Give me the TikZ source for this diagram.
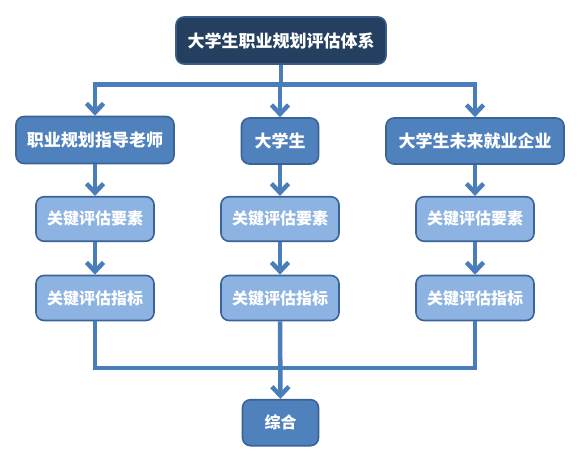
\documentclass[tikz,border=0pt]{standalone}
\usepackage{fontspec}
\setmainfont{Noto Sans CJK SC}
\usetikzlibrary{arrows.meta}
\definecolor{navy}{HTML}{243F60}
\definecolor{navyline}{HTML}{3A5D8A}
\definecolor{midblue}{HTML}{4F81BD}
\definecolor{midline}{HTML}{3A6398}
\definecolor{lightblue}{HTML}{8DB3E2}
\definecolor{wireblue}{HTML}{4A7EBB}
\begin{document}
\begin{tikzpicture}[x=1pt,y=-1pt,
  box/.style={draw=midline,line width=1.6pt,rounded corners=8pt,fill=midblue,
    text=white,font=\bfseries\fontsize{17pt}{17pt}\selectfont,inner sep=0pt,
    minimum height=46pt},
  topbox/.style={box,fill=navy,draw=navyline,minimum width=210pt,minimum height=47pt},
  subbox/.style={box,fill=lightblue,font=\bfseries\fontsize{16pt}{16pt}\selectfont,
    minimum width=118pt,minimum height=44.5pt},
  wire/.style={draw=wireblue,line width=4.5pt},
  arr/.style={wire,-{Straight Barb[length=9pt,width=17pt,line width=4.5pt]}}]
\useasboundingbox (0,0) rectangle (578,454);
% boxes
\node[topbox] (sys) at (281,40.5) {大学生职业规划评估体系};
\node[box,minimum width=158pt,minimum height=47pt] (teacher) at (95,140) {职业规划指导老师};
\node[box,minimum width=77pt] (student) at (280,141) {大学生};
\node[box,minimum width=178pt] (firm) at (475,141) {大学生未来就业企业};
\node[subbox] (elemA) at (95,219) {关键评估要素};
\node[subbox] (elemB) at (280,219) {关键评估要素};
\node[subbox] (elemC) at (475,219) {关键评估要素};
\node[subbox,minimum height=45pt] (indA) at (95,298) {关键评估指标};
\node[subbox,minimum height=45pt] (indB) at (280,298) {关键评估指标};
\node[subbox,minimum height=45pt] (indC) at (475,298) {关键评估指标};
\node[box,minimum width=76pt,font=\bfseries\fontsize{16pt}{16pt}\selectfont] (sum) at (280.5,422.7) {综合};
% wires
\coordinate (split) at (281,84.5);
\coordinate (join) at (280,368);
\draw[wire] (sys) -- (split);
\draw[arr] (split) -| (teacher);
\draw[arr] (split) -| (firm);
\draw[arr] (split) -| (student);
\draw[arr] (teacher) -- (elemA);
\draw[arr] (student) -- (elemB);
\draw[arr] (firm) -- (elemC);
\draw[arr] (elemA) -- (indA);
\draw[arr] (elemB) -- (indB);
\draw[arr] (elemC) -- (indC);
\draw[wire] (indA) |- (join);
\draw[wire] (indC) |- (join);
\draw[arr] (indB) -- (sum);
\end{tikzpicture}
\end{document}
